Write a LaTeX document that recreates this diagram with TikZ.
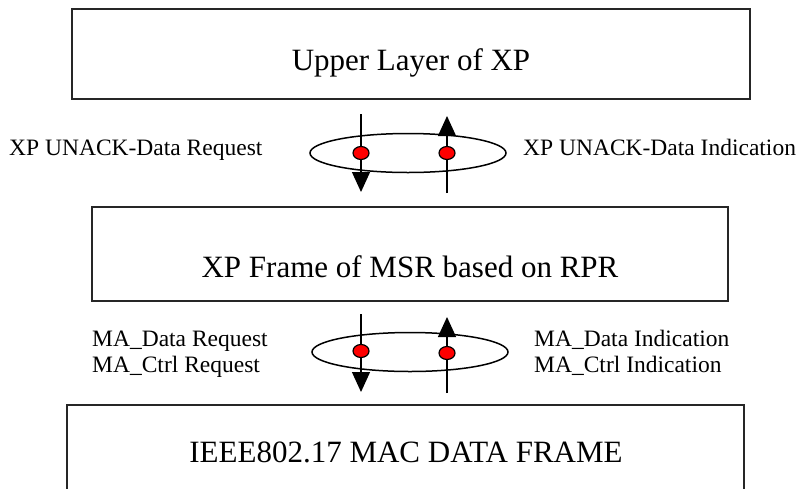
\documentclass[tikz,border=0pt]{standalone}
\usepackage{fontspec}
\setmainfont{Liberation Serif}
\usetikzlibrary{arrows.meta,shapes.geometric}
\begin{document}
\begin{tikzpicture}[x=1pt,y=-1pt,
  layerbox/.style={draw=black!85, line width=2pt, fill=white, inner sep=0pt},
  boxtext/.style={font=\fontsize{31}{37}\selectfont, inner sep=0pt, anchor=base},
  sidetext/.style={font=\fontsize{23.5}{28}\selectfont, inner sep=0pt, anchor=base west},
  ring/.style={draw=black, line width=1.5pt, ellipse, inner sep=0pt,
               minimum width=196pt, minimum height=39pt},
  flow/.style={draw=black, line width=1.3pt, -{Triangle[width=18pt,length=20pt]}},
  plain/.style={draw=black, line width=1.3pt},
  sap/.style={draw=black, line width=1.2pt, fill=red, ellipse, inner sep=0pt,
              minimum width=16pt, minimum height=13pt}
]
% page frame; the lowest box runs off the bottom edge
\clip (0,0) rectangle (805,488);
\fill[white] (0,0) rectangle (805,488);

% the three layers
\node[layerbox, minimum width=678pt, minimum height=90pt] (upper) at (411,54) {};
\node[boxtext] (uppert) at (411,70) {Upper Layer of XP};

\node[layerbox, minimum width=636pt, minimum height=94pt] (frame) at (410,254) {};
\node[boxtext] (framet) at (410,277) {XP Frame of MSR based on RPR};

\node[layerbox, minimum width=677pt, minimum height=140pt] (mac) at (405.5,475) {};
\node[boxtext] (mact) at (406,462) {IEEE802.17 MAC DATA FRAME};

% service access point between upper layer and XP frame
\node[ring] (sapA) at (408,153) {};
\coordinate (a1s) at (361,114);
\coordinate (a1e) at (361,192);
\coordinate (a2s) at (447,193);
\coordinate (a2e) at (447,116);
\draw[flow] (a1s) -- (a1e);
\draw[flow] (a2s) -- (a2e);
\node[sap] (pA1) at (361,153) {};
\node[sap] (pA2) at (447,153) {};

\node[sidetext] (reqA) at (9,155) {XP UNACK-Data Request};
\node[sidetext] (indA) at (523,155) {XP UNACK-Data Indication};

% service access point between XP frame and MAC
\node[ring] (sapB) at (410,352) {};
\coordinate (b1s) at (361,314);
\coordinate (b1e) at (361,392);
\coordinate (b2s) at (447,393);
\coordinate (b2e) at (447,317);
\draw[flow] (b1s) -- (b1e);
\draw[flow] (b2s) -- (b2e);
\node[sap] (pB1) at (361,351) {};
\node[sap] (pB2) at (447,353) {};

\node[sidetext] (reqB1) at (92,346) {MA\_Data Request};
\node[sidetext] (reqB2) at (92,372) {MA\_Ctrl Request};
\node[sidetext] (indB1) at (534,346) {MA\_Data Indication};
\node[sidetext] (indB2) at (534,372) {MA\_Ctrl Indication};
\end{tikzpicture}
\end{document}
